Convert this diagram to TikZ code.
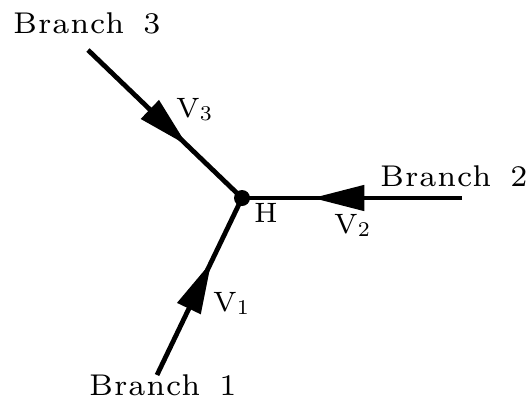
\documentclass[tikz,border=0pt]{standalone}
\usepackage{fontspec}
\newfontfamily\branchfont{lmroman7-regular.otf}[LetterSpace=3]
\newfontfamily\labelfont{lmroman7-regular.otf}
\usetikzlibrary{arrows.meta,decorations.markings}
\newcommand{\subdigit}[1]{{\fontsize{21}{21}\selectfont\raisebox{-3pt}{#1}}}
\begin{document}
\begin{tikzpicture}[x=1pt,y=-1pt,
  branch/.style={line width=4.8pt},
  lbl/.style={font=\branchfont\fontsize{30}{30}\selectfont, inner sep=0pt},
  vlbl/.style={font=\labelfont\fontsize{28}{28}\selectfont, inner sep=0pt},
  flow/.style={decoration={markings, mark=at position #1 with {\arrow{Triangle[length=52pt,width=25pt]}}}, postaction=decorate}]
\useasboundingbox (0,0) rectangle (530,402);
\coordinate (H) at (242,198);
\coordinate (e3) at (88,50);
\coordinate (e2) at (462,198);
\coordinate (e1) at (157,375);
\draw[branch, flow=0.645] (e3) -- (H);
\draw[branch, flow=0.68] (e2) -- (H);
\draw[branch, flow=0.64] (e1) -- (H);
\fill (H) circle (8pt);
\node[lbl, anchor=base west] (t3) at (13,33) {Branch\hspace{19pt}3};
\node[lbl, anchor=base west] (t2) at (380,186) {Branch\hspace{19pt}2};
\node[lbl, anchor=base west] (t1) at (89,395) {Branch\hspace{19pt}1};
\node[vlbl, anchor=base west] (v3) at (176,117) {V\subdigit{3}};
\node[vlbl, anchor=base west] (v2) at (334,233) {V\subdigit{2}};
\node[vlbl, anchor=base west] (v1) at (213,311) {V\subdigit{1}};
\node[vlbl, anchor=base west] (h) at (254,222) {H};
\end{tikzpicture}
\end{document}
